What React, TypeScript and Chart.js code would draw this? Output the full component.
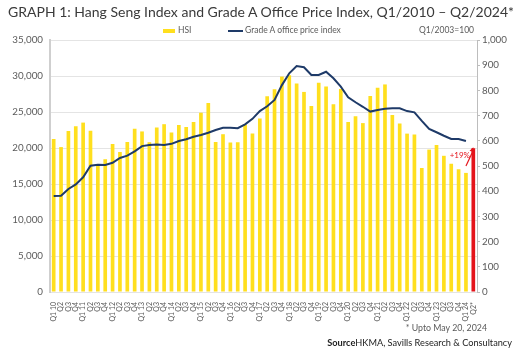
import React, { useEffect, useRef } from "react";
import { Chart, registerables } from "chart.js";

Chart.register(...registerables);

const quarterLabels: string[] = [
  "Q1 10", "Q2", "Q3", "Q4",
  "Q1 11", "Q2", "Q3", "Q4",
  "Q1 12", "Q2", "Q3", "Q4",
  "Q1 13", "Q2", "Q3", "Q4",
  "Q1 14", "Q2", "Q3", "Q4",
  "Q1 15", "Q2", "Q3", "Q4",
  "Q1 16", "Q2", "Q3", "Q4",
  "Q1 17", "Q2", "Q3", "Q4",
  "Q1 18", "Q2", "Q3", "Q4",
  "Q1 19", "Q2", "Q3", "Q4",
  "Q1 20", "Q2", "Q3", "Q4",
  "Q1 21", "Q2", "Q3", "Q4",
  "Q1 22", "Q2", "Q3", "Q4",
  "Q1 23", "Q2", "Q3", "Q4",
  "Q1 24", "Q2*",
];

const hsiValues: number[] = [
  21239, 20129, 22359, 23035,
  23528, 22398, 17592, 18434,
  20556, 19441, 20840, 22657,
  22300, 20803, 22860, 23306,
  22151, 23191, 22933, 23605,
  24901, 26250, 20846, 21914,
  20777, 20794, 23297, 22001,
  24112, 27200, 28150, 29919,
  30093, 28955, 27789, 25846,
  29051, 28543, 26092, 28190,
  23603, 24427, 23459, 27231,
  28378, 28828, 24576, 23398,
  21997, 21860, 17223, 19781,
  20400, 18916, 17810, 17047,
  16541, 19950,
];

const officeIndex: (number | null)[] = [
  381, 382, 409, 427,
  455, 501, 505, 504,
  513, 532, 541, 558,
  579, 583, 585, 583,
  588, 599, 606, 616,
  623, 632, 643, 652,
  652, 650, 665, 687,
  718, 737, 762, 821,
  868, 897, 892, 861,
  861, 874, 848, 815,
  773, 753, 735, 716,
  722, 727, 729, 729,
  718, 713, 679, 647,
  634, 620, 607, 607,
  599, null,
];

const leftTicksMax = 35000;
const rightTicksMax = 1000;
const changeLabel = "+19%";

const YELLOW = "#FFDF1E";
const RED = "#E4141B";
const NAVY = "#1E3A68";
const GREY_TEXT = "#5a5a5a";
const FONT = "Lato, 'Open Sans', sans-serif";

const arrowPlugin = {
  id: "changeArrow",
  afterDatasetsDraw(chart: any) {
    const x = chart.scales.x;
    const y = chart.scales.y;
    const n = hsiValues.length;
    const x0 = x.getPixelForValue(n - 2);
    const y0 = y.getPixelForValue(hsiValues[n - 2]) - 7;
    const x1 = x.getPixelForValue(n - 1);
    const y1 = y.getPixelForValue(hsiValues[n - 1]);
    const ctx = chart.ctx;
    ctx.save();
    ctx.strokeStyle = RED;
    ctx.fillStyle = RED;
    ctx.lineWidth = 1.2;
    ctx.beginPath();
    ctx.moveTo(x0, y0);
    ctx.lineTo(x1, y1 + 2);
    ctx.stroke();
    const ang = Math.atan2(y1 - y0, x1 - x0);
    const len = 5;
    ctx.beginPath();
    ctx.moveTo(x1, y1 - 1);
    ctx.lineTo(x1 - len * Math.cos(ang - 0.45), y1 - 1 - len * Math.sin(ang - 0.45));
    ctx.lineTo(x1 - len * Math.cos(ang + 0.45), y1 - 1 - len * Math.sin(ang + 0.45));
    ctx.closePath();
    ctx.fill();
    ctx.font = "8px " + FONT;
    ctx.textAlign = "right";
    ctx.textBaseline = "middle";
    ctx.fillText(changeLabel, x0 + 4, y0 - 10);
    ctx.restore();
  },
};

export default function App() {
  const canvasRef = useRef<HTMLCanvasElement | null>(null);

  useEffect(() => {
    if (!canvasRef.current) return;
    const barColors = hsiValues.map((_, i) => (i === hsiValues.length - 1 ? RED : YELLOW));
    const chart = new Chart(canvasRef.current, {
      type: "bar",
      data: {
        labels: quarterLabels,
        datasets: [
          {
            type: "line",
            label: "Grade A office price index",
            data: officeIndex,
            yAxisID: "y1",
            borderColor: NAVY,
            backgroundColor: NAVY,
            borderWidth: 2,
            pointRadius: 0,
            tension: 0,
            order: 0,
          } as any,
          {
            type: "bar",
            label: "HSI",
            data: hsiValues,
            yAxisID: "y",
            backgroundColor: barColors,
            barPercentage: 0.5,
            categoryPercentage: 1,
            order: 1,
          } as any,
        ],
      },
      options: {
        responsive: false,
        animation: false,
        locale: "en-US",
        layout: { padding: { top: 40, left: 0, right: 0, bottom: 0 } },
        plugins: {
          legend: { display: false },
          tooltip: { enabled: false },
          title: { display: false },
        },
        scales: {
          x: {
            grid: { display: false },
            border: { display: false },
            ticks: {
              autoSkip: false,
              maxRotation: 90,
              minRotation: 90,
              padding: 2,
              color: GREY_TEXT,
              font: { family: FONT, size: 7 },
            },
            afterFit: (s: any) => {
              s.height = 59;
            },
          },
          y: {
            position: "left",
            min: 0,
            max: leftTicksMax,
            ticks: {
              stepSize: 5000,
              padding: 7,
              color: GREY_TEXT,
              font: { family: FONT, size: 9.8 },
            },
            grid: { color: "#E4E4E4", drawTicks: false, lineWidth: 1 },
            border: { color: "#CFCFCF", width: 2 },
            afterFit: (s: any) => {
              s.width = 50;
            },
          },
          y1: {
            position: "right",
            min: 0,
            max: rightTicksMax,
            ticks: {
              stepSize: 100,
              padding: 2,
              color: GREY_TEXT,
              font: { family: FONT, size: 9.8 },
            },
            grid: { drawOnChartArea: false, drawTicks: true, tickLength: 3, color: "#BDBDBD" },
            border: { color: "#BDBDBD", width: 1 },
            afterFit: (s: any) => {
              s.width = 38;
            },
          },
        },
      } as any,
      plugins: [arrowPlugin],
    });
    return () => chart.destroy();
  }, []);

  const base: React.CSSProperties = { position: "absolute", fontFamily: FONT, whiteSpace: "nowrap" };

  return (
    <div style={{ position: "fixed", left: 0, top: 0, width: 515, height: 351, background: "#fff", overflow: "hidden" }}>
      <canvas ref={canvasRef} width={515} height={351} style={{ position: "absolute", left: 0, top: 0, width: 515, height: 351 }} />
      <div style={{ ...base, left: 8, top: 3, fontSize: 14, color: "#3a3a3a", lineHeight: "18px" }}>
        GRAPH 1: Hang Seng Index and Grade A Office Price Index, Q1/2010 – Q2/2024*
      </div>
      <div style={{ ...base, left: 163, top: 28.5, width: 12, height: 4, background: YELLOW }} />
      <div style={{ ...base, left: 178, top: 24, fontSize: 8.5, color: GREY_TEXT, lineHeight: "12px" }}>HSI</div>
      <div style={{ ...base, left: 228, top: 29.5, width: 15, height: 2, background: NAVY }} />
      <div style={{ ...base, left: 245, top: 24, fontSize: 8.5, color: GREY_TEXT, lineHeight: "12px" }}>Grade A office price index</div>
      <div style={{ ...base, right: 515 - 474, top: 24, fontSize: 8.5, color: GREY_TEXT, lineHeight: "12px" }}>Q1/2003=100</div>
      <div style={{ ...base, right: 515 - 487, top: 322, fontSize: 8.8, color: GREY_TEXT, lineHeight: "12px" }}>* Upto May 20, 2024</div>
      <div style={{ ...base, right: 3, top: 337, fontSize: 9.2, color: "#222", lineHeight: "12px" }}>
        <b>Source</b>HKMA, Savills Research &amp; Consultancy
      </div>
    </div>
  );
}
